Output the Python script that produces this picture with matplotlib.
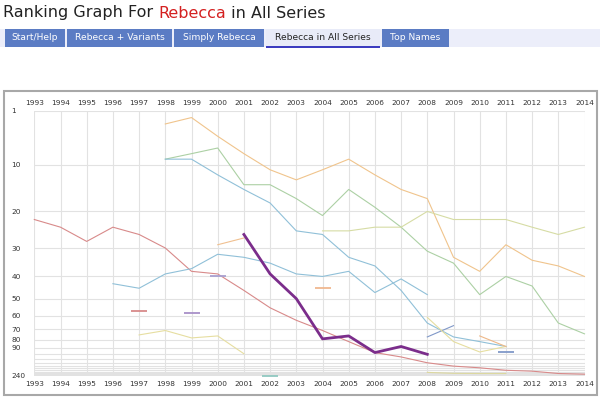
import numpy as np
import matplotlib
matplotlib.use("Agg")
import matplotlib.pyplot as plt
from matplotlib.patches import Rectangle

nan = np.nan
years = list(range(1993, 2015))

# ranks per series, nan where the series has no value
red = [22, 24, 28, 24, 26, 30, 38, 39, 46, 55, 63, 71, 82, 97, 105, 119, 130, 137, 150, 156, 178, 188]
orange = [nan] * 5 + [3, 2, 5, 8, 11, 13, 11, 9, 12, 15, 17, 33, 38, 29, 34, 36, 40]
green = [nan] * 5 + [9, 8, 7, 14, 14, 17, 21, 15, 19, 24, 31, 35, 48, 40, 44, 65, 74]
blue_a = [nan] * 5 + [9, 9, 12, 15, 18, 25, 26, 33, 36, 46, 65, 77, 82, 88] + [nan] * 3
blue_b = [nan] * 3 + [43, 45, 39, 37, 32, 33, 35, 39, 40, 38, 47, 41, 48] + [nan] * 6
olive = [nan] * 11 + [25, 25, 24, 24, 20, 22, 22, 22, 24, 26, 24]
yellow_low = [nan] * 4 + [75, 71, 78, 76, 99] + [nan] * 13
orange_short = [nan] * 7 + [29, 27] + [nan] * 13
rebecca = [nan] * 8 + [26, 39, 50, 79, 76, 97, 88, 100] + [nan] * 6
blue_short = [nan] * 15 + [77, 67] + [nan] * 5
yellow_late = [nan] * 15 + [61, 82, 96, 88] + [nan] * 3
orange_late = [nan] * 17 + [76, 88] + [nan] * 3
olive_bottom = [nan] * 15 + [166, 176, 178, 178] + [nan] * 3

# single-year entries, drawn as short dashes
single_years = [1997, 1999, 2000, 2004, 2002, 2011]
single_ranks = [57, 58, 40, 45, 238, 96]
single_colors = ["#d88a8a", "#a890c8", "#a8a0d0", "#f0b890", "#90c8c0", "#8098c8"]

ytick_vals = [1] + list(range(10, 250, 10))
ytick_labels = {1: "1", 10: "10", 20: "20", 30: "30", 40: "40", 50: "50",
                60: "60", 70: "70", 80: "80", 90: "90", 240: "240"}

tabs = ["Start/Help", "Rebecca + Variants", "Simply Rebecca", "Rebecca in All Series", "Top Names"]
tab_x = [(5, 65), (67, 172), (174, 264), (266, 380), (382, 449)]
active_tab = 3

W, H = 600, 398
fig = plt.figure(figsize=(W / 100, H / 100), dpi=100)
fig.patch.set_facecolor("white")


def fx(px):
    return px / W


def fy(py):
    return 1 - py / H


# header title, name part in red
title_parts = [("Ranking Graph For ", "#222222"), ("Rebecca", "#d42020"), (" in All Series", "#222222")]
x = fx(3)
for txt, col in title_parts:
    t = fig.text(x, fy(13), txt, fontsize=11.5, va="center", ha="left", color=col)
    fig.canvas.draw()
    x = t.get_window_extent().x1 / W

fig.patches.append(Rectangle((0, fy(47)), 1, (47 - 29) / H, transform=fig.transFigure,
                             facecolor="#eceefa", edgecolor="none"))
for i, (name, (x0, x1)) in enumerate(zip(tabs, tab_x)):
    active = i == active_tab
    fig.patches.append(Rectangle((fx(x0), fy(47)), (x1 - x0) / W, 18 / H, transform=fig.transFigure,
                                 facecolor="#e8ebf8" if active else "#5b7cc4", edgecolor="none"))
    fig.text(fx((x0 + x1) / 2), fy(38), name, fontsize=6.6, ha="center", va="center",
             color="#222222" if active else "white")
    if active:
        fig.patches.append(Rectangle((fx(x0), fy(48)), (x1 - x0) / W, 2 / H, transform=fig.transFigure,
                                     facecolor="#3c3cc0", edgecolor="none"))

# chart frame
fig.patches.append(Rectangle((fx(4), fy(395)), (597 - 4) / W, (395 - 91) / H, transform=fig.transFigure,
                             facecolor="none", edgecolor="#a8a8a8", lw=1.5))

ax = fig.add_axes([fx(34.3), fy(376), (584.5 - 34.3) / W, (376 - 111) / H])
# rank axis: spacing shrinks exponentially toward the bottom
ax.set_yscale("function", functions=(lambda r: 1 - np.exp(-np.asarray(r, float) / 40.0),
                                     lambda v: -40.0 * np.log(np.clip(1 - np.asarray(v, float), 1e-12, None))))
ax.set_ylim(240, 1)
ax.set_xlim(1993, 2014)

ax.set_yticks(ytick_vals)
ax.set_yticklabels([ytick_labels.get(v, "") for v in ytick_vals])
ax.set_xticks(years)
ax.set_xticklabels([str(y) for y in years])
ax.tick_params(axis="both", length=0, labelsize=5.3, labelcolor="#333333")
ax.tick_params(axis="x", labeltop=True, labelbottom=True, pad=3.5)
ax.tick_params(axis="y", pad=16.5)
for lab in ax.get_yticklabels():
    lab.set_horizontalalignment("left")
ax.grid(True, color="#e2e2e2", lw=0.8)
ax.set_axisbelow(True)
for s in ax.spines.values():
    s.set_visible(False)

series = [
    (red, "#d88a8a"),
    (orange, "#f0c48c"),
    (green, "#acd0a4"),
    (blue_a, "#90c0d8"),
    (blue_b, "#90c0d8"),
    (olive, "#d6dca4"),
    (yellow_low, "#e6dea0"),
    (orange_short, "#f0c090"),
    (blue_short, "#8098c8"),
    (yellow_late, "#e6dea0"),
    (orange_late, "#eeb888"),
    (olive_bottom, "#dcd8a0"),
]
for vals, col in series:
    ax.plot(years, vals, color=col, lw=0.8, clip_on=False)
ax.plot(years, rebecca, color="#7b2d8b", lw=2.0, clip_on=False)

for yr, rk, col in zip(single_years, single_ranks, single_colors):
    ax.plot([yr], [rk], marker="_", ms=11, mew=1.3, color=col, clip_on=False)

fig.savefig("out.png", dpi=100)
